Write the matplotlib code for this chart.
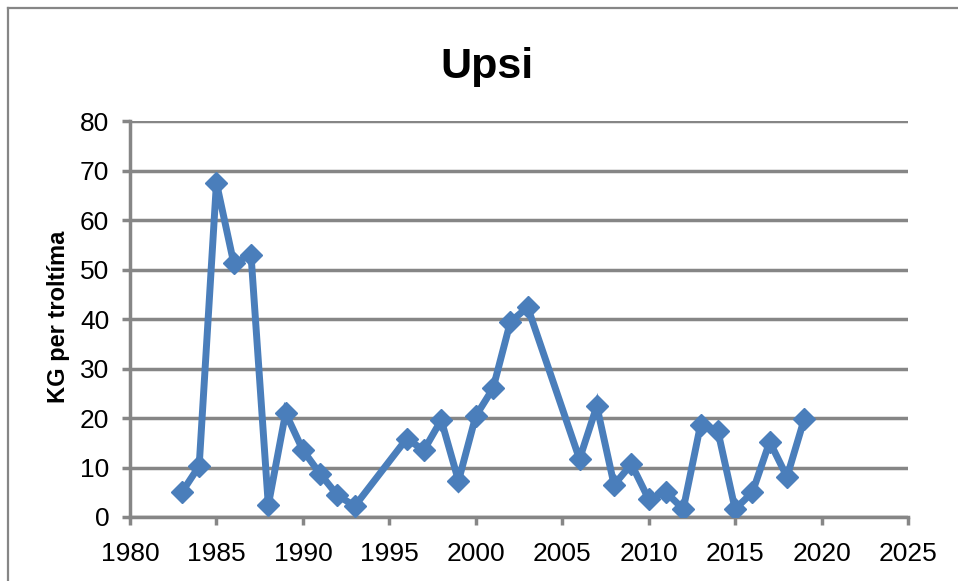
import matplotlib
matplotlib.use("Agg")
import matplotlib.pyplot as plt
from matplotlib.lines import Line2D

years = [1983, 1984, 1985, 1986, 1987, 1988, 1989, 1990, 1991, 1992, 1993,
         1996, 1997, 1998, 1999, 2000, 2001, 2002, 2003,
         2006, 2007, 2008, 2009, 2010, 2011, 2012, 2013, 2014, 2015, 2016,
         2017, 2018, 2019]
values = [5.0, 10.3, 67.5, 51.3, 52.9, 2.4, 21.0, 13.5, 8.7, 4.4, 2.2,
          15.8, 13.5, 19.6, 7.3, 20.4, 26.0, 39.4, 42.4,
          11.7, 22.4, 6.5, 10.7, 3.6, 5.0, 1.6, 18.6, 17.4, 1.6, 5.0,
          15.2, 8.1, 19.8]
x_ticks = [1980, 1985, 1990, 1995, 2000, 2005, 2010, 2015, 2020, 2025]
y_ticks = [0, 10, 20, 30, 40, 50, 60, 70, 80]
title = "Upsi"
ylabel = "KG per troltíma"

W, H = 958, 581
fig = plt.figure(figsize=(W / 100, H / 100), dpi=100)
ax = fig.add_axes([130 / W, 1 - 517 / H, (908 - 130) / W, (517 - 121) / H])

blue = "#4A7EBB"
grey = "#868686"
fam = ["Liberation Sans", "DejaVu Sans"]

ax.plot(years, values, color=blue, lw=5, marker="D", ms=11,
        mfc=blue, mec=blue, mew=1, zorder=3, solid_joinstyle="miter")

ax.set_xlim(1980, 2025)
ax.set_ylim(0, 80)
ax.set_xticks(x_ticks)
ax.set_yticks(y_ticks)
ax.yaxis.grid(True, color=grey, lw=2.5)
ax.set_axisbelow(True)
for s in ["top", "right"]:
    ax.spines[s].set_visible(False)
for s in ["left", "bottom"]:
    ax.spines[s].set_color(grey)
    ax.spines[s].set_linewidth(2.5)
ax.tick_params(axis="both", direction="out", length=6, width=2.5, color=grey,
               labelsize=19)
ax.tick_params(axis="x", pad=12)
ax.tick_params(axis="y", pad=9)
for lab in ax.get_xticklabels() + ax.get_yticklabels():
    lab.set_fontfamily(fam)

fig.text(58 / W, 1 - 317 / H, ylabel, rotation=90, ha="center", va="center",
         fontsize=17, fontweight="bold", family=fam)

fig.text(487 / W, 1 - 78 / H, title, ha="center", va="baseline",
         fontsize=31, fontweight="bold", family=fam)

# chart border (partially cropped)
fig.add_artist(Line2D([8 / W, 8 / W], [0, 1 - 8 / H], transform=fig.transFigure,
                      color=grey, lw=1.6))
fig.add_artist(Line2D([8 / W, 1], [1 - 8 / H, 1 - 8 / H], transform=fig.transFigure,
                      color=grey, lw=1.6))

fig.savefig("out.png", dpi=100)
